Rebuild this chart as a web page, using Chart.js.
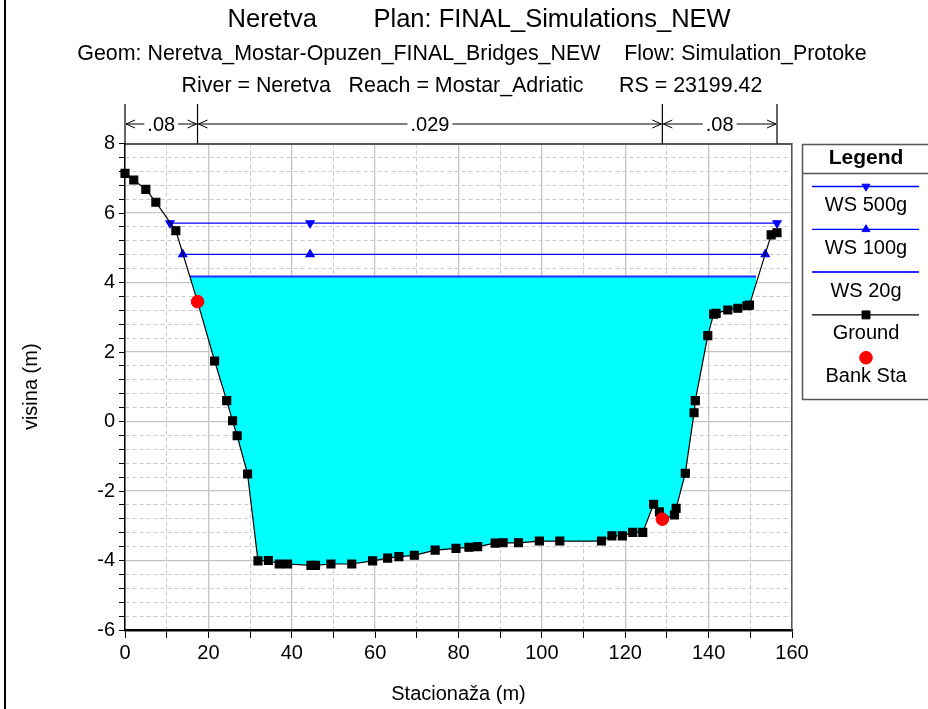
<!DOCTYPE html>
<html>
<head>
<meta charset="utf-8">
<script src="https://cdn.jsdelivr.net/npm/chart.js@4.4.1/dist/chart.umd.min.js"></script>
<style>
html,body{margin:0;padding:0;background:#fff;}
canvas{display:block;}
</style>
</head>
<body>
<canvas id="c" width="928" height="709"></canvas>
<script>
const FONT = '"Liberation Sans", Arial, Helvetica, sans-serif';

// ---- text ----
const titleText = '  Neretva        Plan: FINAL_Simulations_NEW';
const subtitleLines = [
  'Geom: Neretva_Mostar-Opuzen_FINAL_Bridges_NEW    Flow: Simulation_Protoke',
  'River = Neretva   Reach = Mostar_Adriatic      RS = 23199.42'
];
const xTitle = 'Stacionaža (m)';
const yTitle = 'visina (m)';
const legendTitle = 'Legend';

// ---- ground profile ----
const groundStations = [0, 2.1, 5.0, 7.4, 12.2, 17.4, 21.5, 24.4, 25.8, 26.9, 29.4, 31.9, 34.4, 37.0, 39.0,
  44.6, 45.7, 49.4, 54.4, 59.4, 63.0, 65.7, 69.4, 74.4, 79.4, 82.5, 84.6, 88.8, 90.7, 94.4, 99.4, 104.3,
  114.3, 116.8, 119.3, 121.8, 124.2, 126.8, 128.2, 128.9, 131.8, 132.2, 134.4, 136.5, 136.8, 139.8, 141.2,
  141.8, 144.6, 147.0, 149.2, 149.8, 155.0, 156.4];
const groundElev = [7.14, 6.95, 6.68, 6.31, 5.49, 3.45, 1.74, 0.60, 0.02, -0.41, -1.51, -4.01, -4.00, -4.10, -4.10,
  -4.14, -4.14, -4.10, -4.10, -4.01, -3.93, -3.89, -3.85, -3.70, -3.65, -3.62, -3.60, -3.50, -3.49, -3.49, -3.44, -3.44,
  -3.44, -3.29, -3.29, -3.19, -3.19, -2.38, -2.60, -2.81, -2.69, -2.50, -1.49, 0.25, 0.60, 2.47, 3.09,
  3.11, 3.21, 3.26, 3.33, 3.35, 5.37, 5.43];

// ---- bank stations ----
const bankStations = [17.4, 128.9];
const bankElev = [3.45, -2.81];

// ---- water surfaces ----
const ws500Stations = [10.8, 44.4, 156.4];
const ws500Elev = [5.71, 5.71, 5.71];
const ws100Stations = [13.85, 44.4, 153.6];
const ws100Elev = [4.81, 4.81, 4.81];
const ws20Stations = [15.6, 151.4];
const ws20Elev = [4.17, 4.17];

// ---- Manning n regions ----
const nValues = ['.08', '.029', '.08'];
const nBounds = [0, 17.4, 128.9, 156.4];

// ---- axes ----
const xMin = 0, xMax = 160, xMajorStep = 20, xMinorStep = 10;
const yMin = -6, yMax = 8, yMajorStep = 2, yMinorStep = 0.4;

const toXY = (xs, ys) => xs.map((x, i) => ({x: x, y: ys[i]}));
const isMult = (v, m) => Math.abs(v / m - Math.round(v / m)) < 1e-6;

const framePlugin = {
  id: 'frame',
  beforeDraw(chart) {
    const ctx = chart.ctx;
    ctx.save();
    ctx.fillStyle = '#fff';
    ctx.fillRect(0, 0, chart.width, chart.height);
    ctx.restore();
  },
  afterDraw(chart) {
    const ctx = chart.ctx;
    ctx.save();
    // left frame line
    ctx.fillStyle = '#000';
    ctx.fillRect(4, 0, 2, chart.height);

    // Manning n annotation
    const xs = chart.scales.x;
    const top = chart.chartArea.top;
    const px = nBounds.map(v => xs.getPixelForValue(v));
    ctx.strokeStyle = '#000';
    ctx.lineWidth = 1.2;
    px.forEach(p => {
      ctx.beginPath();
      ctx.moveTo(p, 104);
      ctx.lineTo(p, top);
      ctx.stroke();
    });
    const ay = 124;
    ctx.font = '20px ' + FONT;
    ctx.fillStyle = '#000';
    ctx.textAlign = 'center';
    ctx.textBaseline = 'middle';
    for (let i = 0; i < nValues.length; i++) {
      const a = px[i], b = px[i + 1], mid = (a + b) / 2;
      const w = ctx.measureText(nValues[i]).width;
      ctx.fillText(nValues[i], mid, ay + 1);
      ctx.lineWidth = 1;
      ctx.beginPath();
      ctx.moveTo(a + 1, ay); ctx.lineTo(mid - w / 2 - 3, ay);
      ctx.moveTo(mid + w / 2 + 3, ay); ctx.lineTo(b - 1, ay);
      // chevrons
      ctx.moveTo(a + 10, ay - 4); ctx.lineTo(a + 1, ay); ctx.lineTo(a + 10, ay + 4);
      ctx.moveTo(b - 10, ay - 4); ctx.lineTo(b - 1, ay); ctx.lineTo(b - 10, ay + 4);
      ctx.stroke();
    }

    // legend box
    ctx.strokeStyle = '#555';
    ctx.lineWidth = 1.5;
    ctx.strokeRect(802.5, 144.5, 140, 255);
    ctx.beginPath();
    ctx.moveTo(802.5, 173.5); ctx.lineTo(928, 173.5);
    ctx.stroke();
    ctx.fillStyle = '#000';
    ctx.font = 'bold 21px ' + FONT;
    ctx.fillText(legendTitle, 866, 158);
    ctx.font = '20px ' + FONT;
    chart.data.datasets.forEach((ds, i) => {
      const ly = 186.5 + i * 42.8;
      if (ds.showLine) {
        ctx.strokeStyle = ds.borderColor;
        ctx.lineWidth = ds.borderWidth;
        ctx.beginPath();
        ctx.moveTo(812, ly); ctx.lineTo(919, ly);
        ctx.stroke();
      }
      if (ds.pointRadius > 0) {
        ctx.fillStyle = ds.pointBackgroundColor || ds.backgroundColor;
        ctx.strokeStyle = ds.pointBorderColor || ds.borderColor;
        ctx.lineWidth = 1;
        Chart.helpers.drawPoint(ctx, {pointStyle: ds.pointStyle, rotation: ds.rotation || 0, radius: ds.pointRadius, borderWidth: 1}, 866, ly);
      }
      ctx.fillStyle = '#000';
      ctx.fillText(ds.label, 866, ly + 19);
    });
    ctx.restore();
  }
};

new Chart(document.getElementById('c'), {
  type: 'scatter',
  data: {
    datasets: [
      {label: 'WS 500g', data: toXY(ws500Stations, ws500Elev), showLine: true, xAxisID: 'x', yAxisID: 'y',
       borderColor: '#0000ff', backgroundColor: '#0000ff', pointBackgroundColor: '#0000ff', pointBorderColor: '#0000ff',
       borderWidth: 1.3, pointStyle: 'triangle', rotation: 180, pointRadius: 4.6, order: 2},
      {label: 'WS 100g', data: toXY(ws100Stations, ws100Elev), showLine: true, xAxisID: 'x', yAxisID: 'y',
       borderColor: '#0000ff', backgroundColor: '#0000ff', pointBackgroundColor: '#0000ff', pointBorderColor: '#0000ff',
       borderWidth: 1.3, pointStyle: 'triangle', rotation: 0, pointRadius: 4.6, order: 3},
      {label: 'WS 20g', data: toXY(ws20Stations, ws20Elev), showLine: true, xAxisID: 'x', yAxisID: 'y',
       borderColor: '#2a2aff', backgroundColor: '#00ffff', borderWidth: 2, pointRadius: 0,
       fill: {target: 3, above: '#00ffff', below: 'rgba(0,0,0,0)'}, order: 4},
      {label: 'Ground', data: toXY(groundStations, groundElev), showLine: true, xAxisID: 'x', yAxisID: 'y',
       borderColor: '#000000', backgroundColor: '#000000', pointBackgroundColor: '#000000', pointBorderColor: '#000000',
       borderWidth: 1.2, pointStyle: 'rect', pointRadius: 5.6, clip: false, order: 1},
      {label: 'Bank Sta', data: toXY(bankStations, bankElev), showLine: false, xAxisID: 'x', yAxisID: 'y',
       borderColor: '#ff0000', backgroundColor: '#ff0000', pointBackgroundColor: '#ff0000', pointBorderColor: '#ff0000',
       pointStyle: 'circle', pointRadius: 6.3, clip: false, order: 0}
    ]
  },
  options: {
    responsive: false,
    animation: false,
    devicePixelRatio: 1,
    layout: {padding: {left: 16, top: 0, right: 0, bottom: 0}},
    plugins: {
      legend: {display: false},
      tooltip: {enabled: false},
      title: {display: true, text: titleText, color: '#000',
              font: {family: FONT, size: 25.5, weight: 'normal', lineHeight: '28px'}, padding: {top: 6, bottom: 4}},
      subtitle: {display: true, text: subtitleLines, color: '#000',
                 font: {family: FONT, size: 21.4, weight: 'normal', lineHeight: '32px'}, padding: {top: 0, bottom: 0}}
    },
    scales: {
      x: {type: 'linear', position: 'bottom', min: xMin, max: xMax,
          ticks: {stepSize: xMinorStep, autoSkip: false, maxRotation: 0, color: '#000', padding: 3,
                  font: {family: FONT, size: 20},
                  callback: v => isMult(v, xMajorStep) ? String(v) : ''},
          grid: {color: c => (c.tick && isMult(c.tick.value, xMajorStep)) ? 'rgba(0,0,0,0)' : '#c8c8c8',
                 lineWidth: 1, tickColor: '#000', tickLength: 8, tickWidth: 1},
          border: {display: true, color: '#000', width: 2.5, dash: [4, 3]},
          title: {display: true, text: xTitle, color: '#000', font: {family: FONT, size: 20}, padding: {top: 0, bottom: 3}},
          afterFit: s => { s.height = 79; }},
      xMajor: {type: 'linear', position: 'top', min: xMin, max: xMax,
          ticks: {display: false, stepSize: xMajorStep},
          grid: {color: '#c4c4c4', lineWidth: 1.3, drawTicks: false},
          border: {display: true, color: '#555', width: 2},
          afterFit: s => { s.height = 41.5; }},
      y: {type: 'linear', position: 'left', min: yMin, max: yMax,
          ticks: {stepSize: yMinorStep, autoSkip: false, color: '#000', padding: 4,
                  font: {family: FONT, size: 20},
                  callback: v => isMult(v, yMajorStep) ? String(Math.round(v)) : ''},
          grid: {color: c => (c.tick && isMult(c.tick.value, yMajorStep)) ? 'rgba(0,0,0,0)' : '#c8c8c8',
                 lineWidth: 1, tickColor: '#000', tickLength: 6, tickWidth: 1},
          border: {display: true, color: '#000', width: 1.5, dash: [4, 3]},
          title: {display: true, text: yTitle, color: '#000', font: {family: FONT, size: 20}, padding: {top: 3, bottom: 0}},
          afterFit: s => { s.width = 109; }},
      yMajor: {type: 'linear', position: 'right', min: yMin, max: yMax,
          ticks: {display: false, stepSize: yMajorStep},
          grid: {color: '#c4c4c4', lineWidth: 1.3, drawTicks: false},
          border: {display: true, color: '#555', width: 1.5},
          afterFit: s => { s.width = 136; }}
    }
  },
  plugins: [framePlugin]
});
</script>
</body>
</html>
